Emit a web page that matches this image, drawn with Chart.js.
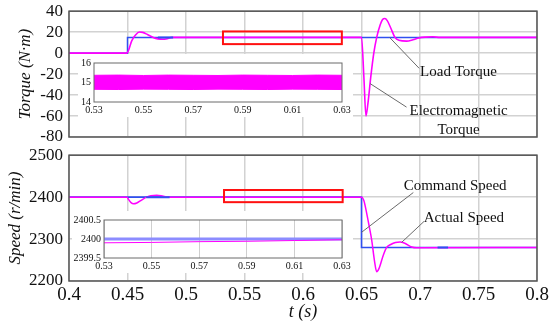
<!DOCTYPE html>
<html>
<head>
<meta charset="utf-8">
<script src="https://cdn.jsdelivr.net/npm/chart.js@4.4.0/dist/chart.umd.min.js"></script>
<style>
    body { margin: 0; background: #fff; }
    #wrap { position: relative; width: 550px; height: 327px; overflow: hidden; }
    #wrap canvas { position: absolute; }
    .inset { background: #fff; }
</style>
</head>
<body>
<div id="wrap">
    <canvas id="torqueChart" width="550" height="159" style="left:0;top:-5px"></canvas>
    <canvas id="speedChart" width="552" height="188" style="left:0;top:139px"></canvas>
    <canvas id="torqueZoom" class="inset" width="275" height="63" style="left:78px;top:54px"></canvas>
    <canvas id="speedZoom" class="inset" width="281" height="62" style="left:72px;top:211px"></canvas>
</div>
<script>
// ---- data ----
const timeTicks = [0.4, 0.45, 0.5, 0.55, 0.6, 0.65, 0.7, 0.75, 0.8];
const torqueTicks = [-80, -60, -40, -20, 0, 20, 40];
const speedTicks = [2200, 2300, 2400, 2500];
const zoomTimeTicks = [0.53, 0.55, 0.57, 0.59, 0.61, 0.63];
const zoomTorqueTicks = [14, 15, 16];
const zoomSpeedTicks = [2399.5, 2400, 2400.5];

// load torque (blue)
const loadTime = [0.4, 0.45, 0.45, 0.8];
const loadTorque = [0, 0, 15, 15];
const loadTopTime = [0.476, 0.489];
const loadTopTorque = [15, 15];

// electromagnetic torque (magenta)
const emTime = [0.4, 0.4495, 0.451, 0.4536, 0.457, 0.4601, 0.463, 0.467, 0.472, 0.476, 0.48, 0.484, 0.488,
    0.65, 0.652, 0.6538, 0.6555, 0.658, 0.6605, 0.663, 0.666, 0.668, 0.67, 0.672, 0.675, 0.6786,
    0.682, 0.6886, 0.694, 0.699, 0.705, 0.711, 0.717, 0.8];
const emTorque = [0, 0, 3, 11.7, 17.5, 20.2, 19.8, 17.8, 15, 13.6, 13.2, 13.8, 15,
    15, -22, -60, -48, -22, 0, 15, 27, 32, 33, 31, 24, 15,
    12.3, 11.5, 12.8, 14.5, 15.3, 15.6, 15, 15];

// command speed (blue)
const cmdTime = [0.4, 0.65, 0.65, 0.8];
const cmdSpeed = [2400, 2400, 2280, 2280];
const cmdTopTime = [0.466, 0.486, 0.486, 0.715, 0.724];
const cmdTopSpeed = [2400, 2400, null, 2280, 2280];

// actual speed (magenta)
const actTime = [0.4, 0.4495, 0.451, 0.453, 0.455, 0.458, 0.462, 0.4664, 0.47, 0.475, 0.48, 0.4835, 0.49,
    0.65, 0.652, 0.6544, 0.6566, 0.6587, 0.661, 0.663, 0.665, 0.6687, 0.6715, 0.675, 0.679, 0.6829,
    0.687, 0.6929, 0.697, 0.8];
const actSpeed = [2400, 2400, 2394, 2387, 2384, 2386, 2393, 2400, 2403.5, 2404.5, 2402.5, 2400.5, 2400,
    2400, 2392, 2362, 2330, 2298, 2250, 2222, 2230, 2262, 2280, 2287, 2292, 2293,
    2290, 2281, 2279, 2280];

// zoomed torque ripple band
const bandTime = [0.53, 0.54, 0.55, 0.56, 0.57, 0.58, 0.59, 0.6, 0.61, 0.62, 0.63];
const bandUpper = [15.37, 15.38, 15.36, 15.38, 15.37, 15.36, 15.38, 15.37, 15.36, 15.38, 15.37];
const bandLower = [14.65, 14.64, 14.66, 14.65, 14.64, 14.66, 14.65, 14.64, 14.66, 14.65, 14.64];

// zoomed speed
const zoomTime = [0.53, 0.55, 0.57, 0.59, 0.61, 0.63];
const zoomCmd = [2400, 2400, 2400, 2400, 2400, 2400];
const zoomAct = [2399.9, 2399.91, 2399.93, 2399.94, 2399.96, 2399.98];

// ---- helpers ----
const PINK = '#ff00ff';
const BLUE = '#3050f0';
const GRID = '#d2d2d2';
const SERIF = "'Liberation Serif', 'Times New Roman', serif";

Chart.defaults.font.family = SERIF;
Chart.defaults.color = '#111';

const serif = (size, style) => ({ family: SERIF, size: size, style: style || 'normal' });
const pts = (xs, ys) => xs.map((x, i) => ({ x: x, y: ys[i] }));
const fixTicks = arr => scale => { scale.ticks = arr.map(v => ({ value: v })); };
const fmt = v => String(+Number(v).toFixed(2));

// lower "order" is drawn on top
const line = (data, color, width, order, extra) => Object.assign({
    data: data,
    borderColor: color,
    borderWidth: width,
    order: order,
    pointRadius: 0,
    fill: false,
    cubicInterpolationMode: 'monotone'
}, extra || {});

// frame, red boxes, leader lines and labels
const overlay = {
    id: 'overlay',
    afterDatasetsDraw(chart, args, opts) {
        const { ctx, scales: { x, y } } = chart;
        ctx.save();
        (opts.boxes || []).forEach(b => {
            const x0 = x.getPixelForValue(b.x0), x1 = x.getPixelForValue(b.x1);
            const y0 = y.getPixelForValue(b.y1), y1 = y.getPixelForValue(b.y0);
            ctx.strokeStyle = '#ff1010';
            ctx.lineWidth = 2;
            ctx.strokeRect(x0, y0, x1 - x0, y1 - y0);
        });
        ctx.restore();
    },
    afterDraw(chart, args, opts) {
        const { ctx, chartArea: a, scales: { x, y } } = chart;
        ctx.save();
        ctx.strokeStyle = opts.frameColor || '#555';
        ctx.lineWidth = opts.frameWidth || 1.5;
        ctx.strokeRect(a.left, a.top, a.right - a.left, a.bottom - a.top);

        (opts.leaders || []).forEach(l => {
            ctx.strokeStyle = '#6a6a6a';
            ctx.lineWidth = 1;
            ctx.beginPath();
            ctx.moveTo(x.getPixelForValue(l.from[0]), y.getPixelForValue(l.from[1]));
            ctx.lineTo(x.getPixelForValue(l.to[0]), y.getPixelForValue(l.to[1]));
            ctx.stroke();
        });
        (opts.labels || []).forEach(t => {
            ctx.fillStyle = '#111';
            ctx.font = '15px ' + SERIF;
            ctx.textAlign = t.align || 'center';
            ctx.textBaseline = 'middle';
            ctx.fillText(t.text, x.getPixelForValue(t.at[0]), y.getPixelForValue(t.at[1]));
        });
        ctx.restore();
    }
};

const mainX = (showLabels, height) => ({
    type: 'linear',
    min: 0.4,
    max: 0.8,
    afterBuildTicks: fixTicks(timeTicks),
    afterFit: s => { s.height = height; },
    grid: { color: GRID, lineWidth: 1.5, drawTicks: false },
    border: { display: false },
    ticks: { display: showLabels, autoSkip: false, maxRotation: 0, padding: 3, font: serif(19), callback: fmt },
    title: {
        display: showLabels,
        text: 't (s)',
        font: serif(18, 'italic'),
        padding: { top: 0, bottom: 4 }
    }
});

const mainY = (min, max, ticks, title, titlePad) => ({
    min: min,
    max: max,
    afterBuildTicks: fixTicks(ticks),
    afterFit: s => { s.width = 69; },
    grid: { color: GRID, lineWidth: 1.5, drawTicks: false },
    border: { display: false },
    ticks: { autoSkip: false, padding: 6, font: serif(17), callback: fmt },
    title: {
        display: true,
        text: title,
        font: serif(17, 'italic'),
        padding: { top: titlePad, bottom: 0 }
    }
});

// ---- torque panel ----
new Chart(document.getElementById('torqueChart'), {
    type: 'line',
    data: {
        datasets: [
            line(pts(loadTime, loadTorque), BLUE, 1.5, 2, { cubicInterpolationMode: 'default' }),
            line(pts(emTime, emTorque), PINK, 1.6, 1),
            line(pts(loadTopTime, loadTopTorque), BLUE, 2, 0)
        ]
    },
    options: {
        responsive: false,
        animation: false,
        layout: { padding: { left: 0, right: 13, top: 0, bottom: 0 } },
        plugins: {
            legend: { display: false },
            tooltip: { enabled: false },
            overlay: {
                boxes: [{ x0: 0.5316, x1: 0.6332, y0: 8.6, y1: 20.7 }],
                leaders: [
                    { from: [0.674, 15], to: [0.6993, -14.5] },
                    { from: [0.6573, -29], to: [0.6885, -51.5] }
                ],
                labels: [
                    { text: 'Load Torque', at: [0.7001, -18.3], align: 'left' },
                    { text: 'Electromagnetic', at: [0.733, -55.5] },
                    { text: 'Torque', at: [0.733, -73] }
                ]
            }
        },
        scales: {
            x: mainX(false, 17),
            y: mainY(-80, 40, torqueTicks, 'Torque (N·m)', 15)
        }
    },
    plugins: [overlay]
});

// ---- speed panel ----
new Chart(document.getElementById('speedChart'), {
    type: 'line',
    data: {
        datasets: [
            line(pts(cmdTime, cmdSpeed), BLUE, 1.6, 2, { cubicInterpolationMode: 'default' }),
            line(pts(actTime, actSpeed), PINK, 1.5, 1),
            line(pts(cmdTopTime, cmdTopSpeed), BLUE, 2, 0, { cubicInterpolationMode: 'default', spanGaps: false })
        ]
    },
    options: {
        responsive: false,
        animation: false,
        layout: { padding: { left: 0, right: 15, top: 0, bottom: 0 } },
        plugins: {
            legend: { display: false },
            tooltip: { enabled: false },
            overlay: {
                boxes: [{ x0: 0.5325, x1: 0.6339, y0: 2388, y1: 2417 }],
                leaders: [
                    { from: [0.65, 2316], to: [0.6943, 2411] },
                    { from: [0.6843, 2292], to: [0.7034, 2342] }
                ],
                labels: [
                    { text: 'Command Speed', at: [0.73, 2426] },
                    { text: 'Actual Speed', at: [0.7375, 2351] }
                ]
            }
        },
        scales: {
            x: mainX(true, 46),
            y: mainY(2200, 2500, speedTicks, 'Speed (r/min)', 5)
        }
    },
    plugins: [overlay]
});

// ---- insets ----
const insetX = grid => ({
    type: 'linear',
    min: 0.53,
    max: 0.63,
    afterBuildTicks: fixTicks(zoomTimeTicks),
    afterFit: s => { s.height = 15; },
    grid: { display: grid, color: '#cfcfcf', lineWidth: 1, drawTicks: false },
    border: { display: false },
    ticks: { autoSkip: false, padding: 2, font: serif(10), callback: fmt, maxRotation: 0 }
});

const insetY = (min, max, ticks, width) => ({
    min: min,
    max: max,
    afterBuildTicks: fixTicks(ticks),
    afterFit: s => { s.width = width; },
    grid: { display: false, drawTicks: false },
    border: { display: false },
    ticks: { autoSkip: false, padding: 3, font: serif(10), callback: fmt }
});

new Chart(document.getElementById('torqueZoom'), {
    type: 'line',
    data: {
        datasets: [
            line(pts(bandTime, bandUpper), PINK, 1, 1, { fill: '+1', backgroundColor: PINK, cubicInterpolationMode: 'default' }),
            line(pts(bandTime, bandLower), PINK, 1, 2, { cubicInterpolationMode: 'default' })
        ]
    },
    options: {
        responsive: false,
        animation: false,
        layout: { padding: { left: 0, right: 11, top: 0, bottom: 0 } },
        plugins: {
            legend: { display: false },
            tooltip: { enabled: false },
            overlay: { frameColor: '#6a6a6a', frameWidth: 1 }
        },
        scales: {
            x: insetX(false),
            y: insetY(14, 16, zoomTorqueTicks, 16)
        }
    },
    plugins: [overlay]
});

new Chart(document.getElementById('speedZoom'), {
    type: 'line',
    data: {
        datasets: [
            line(pts(zoomTime, zoomCmd), '#8c8cff', 3, 2),
            line(pts(zoomTime, zoomAct), PINK, 1, 1)
        ]
    },
    options: {
        responsive: false,
        animation: false,
        layout: { padding: { left: 0, right: 11, top: 0, bottom: 0 } },
        plugins: {
            legend: { display: false },
            tooltip: { enabled: false },
            overlay: { frameColor: '#6a6a6a', frameWidth: 1 }
        },
        scales: {
            x: insetX(true),
            y: insetY(2399.5, 2400.5, zoomSpeedTicks, 32)
        }
    },
    plugins: [overlay]
});
</script>
</body>
</html>
